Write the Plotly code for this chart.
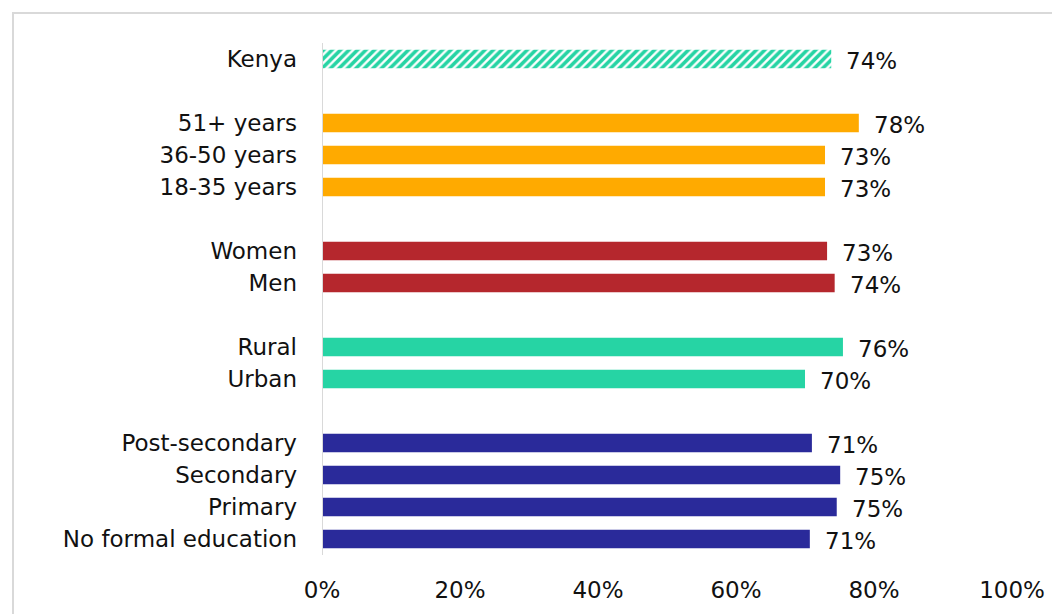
import plotly.graph_objects as go

categories = ["Kenya", "51+ years", "36-50 years", "18-35 years", "Women", "Men",
              "Rural", "Urban", "Post-secondary", "Secondary", "Primary", "No formal education"]
values = [73.8, 77.8, 72.9, 72.9, 73.2, 74.3, 75.5, 70.0, 71.0, 75.1, 74.6, 70.7]
labels = ["74%", "78%", "73%", "73%", "73%", "74%", "76%", "70%", "71%", "75%", "75%", "71%"]
groups = ["total", "age", "age", "age", "sex", "sex", "loc", "loc", "edu", "edu", "edu", "edu"]
slots = [0, 2, 3, 4, 6, 7, 9, 10, 12, 13, 14, 15]
group_colors = {"total": "#26D4A4", "age": "#FFAA00", "sex": "#B5272D", "loc": "#26D4A4", "edu": "#2A2A9A"}
xtick_vals = [0, 20, 40, 60, 80, 100]
xtick_text = ["0%", "20%", "40%", "60%", "80%", "100%"]

FONT = "DejaVu Sans"
TXT = "#111111"
FS = 23
fig = go.Figure()

for g in ["total", "age", "sex", "loc", "edu"]:
    idx = [i for i, gg in enumerate(groups) if gg == g]
    marker = dict(color=group_colors[g], line=dict(width=0))
    if g == "total":
        marker = dict(color="white", line=dict(width=0),
                      pattern=dict(shape="/", fgcolor=group_colors[g], bgcolor="white",
                                   fgopacity=1, size=6, solidity=0.6, fillmode="replace"))
    fig.add_trace(go.Bar(
        x=[values[i] for i in idx], y=[slots[i] for i in idx], orientation="h",
        marker=marker, width=0.58, showlegend=False, hoverinfo="skip"))

for v, s, t in zip(values, slots, labels):
    fig.add_annotation(x=v, y=s, text=t, showarrow=False, xanchor="left", yanchor="middle",
                       xshift=13, yshift=-2, font=dict(family=FONT, size=FS, color=TXT))

# outer border
fig.add_shape(type="rect", xref="paper", yref="paper", x0=-0.4478, x1=1.2, y0=-0.3, y1=1.0586,
              line=dict(color="#D9D9D9", width=2), fillcolor="rgba(0,0,0,0)", layer="below")

fig.update_layout(
    width=1052, height=606,
    margin=dict(l=314, r=48, t=35, b=59),
    paper_bgcolor="white", plot_bgcolor="white",
    font=dict(family=FONT, size=FS, color=TXT),
    xaxis=dict(range=[0, 100], tickvals=xtick_vals, ticktext=xtick_text, showgrid=False,
               zeroline=False, showline=False, ticks="", ticklabelstandoff=19,
               tickfont=dict(family=FONT, size=FS, color=TXT), fixedrange=True),
    yaxis=dict(range=[15.5, -0.5], tickvals=slots, ticktext=categories, showgrid=False,
               zeroline=False, showline=False, ticks="", ticklabelstandoff=24,
               tickfont=dict(family=FONT, size=FS, color=TXT), fixedrange=True),
)
fig.add_shape(type="line", xref="x", yref="paper", x0=0, x1=0, y0=0, y1=1,
              line=dict(color="#D9D9D9", width=2))

fig.write_html("out.html")
